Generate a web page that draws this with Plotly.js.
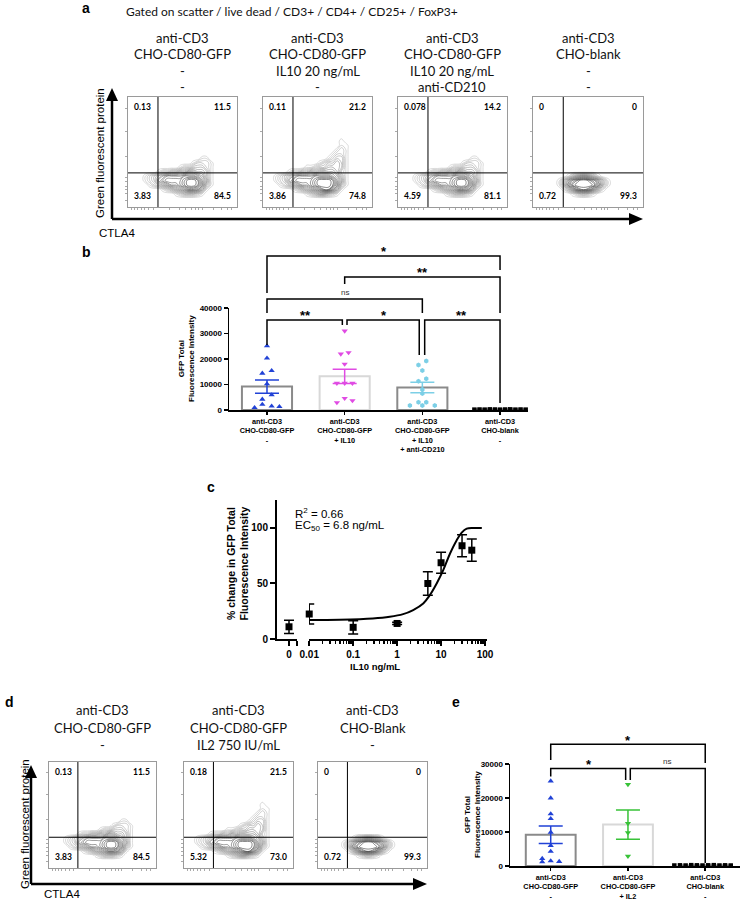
<!DOCTYPE html>
<html><head><meta charset="utf-8">
<script src="https://cdn.plot.ly/plotly-3.0.1.min.js"></script>
<style>html,body{margin:0;padding:0;background:#fff}</style>
</head><body><div id="chart" style="width:745px;height:901px"></div>
<script>
// ================= DATA =================
const gatingTitle = "Gated on scatter / live dead / CD3+ / CD4+ / CD25+ / FoxP3+";
const headingsA = [
  ["anti-CD3","CHO-CD80-GFP","-","-"],
  ["anti-CD3","CHO-CD80-GFP","IL10 20 ng/mL","-"],
  ["anti-CD3","CHO-CD80-GFP","IL10 20 ng/mL","anti-CD210"],
  ["anti-CD3","CHO-blank","-","-"]
];
const quadrantsA = [["0.13","11.5","3.83","84.5"],["0.11","21.2","3.86","74.8"],["0.078","14.2","4.59","81.1"],["0","0","0.72","99.3"]];
const headingsD = [
  ["anti-CD3","CHO-CD80-GFP","-"],
  ["anti-CD3","CHO-CD80-GFP","IL2 750 IU/mL"],
  ["anti-CD3","CHO-Blank","-"]
];
const quadrantsD = [["0.13","11.5","3.83","84.5"],["0.18","21.5","5.32","73.0"],["0","0","0.72","99.3"]];
const gateA = [27.5, 31];
const gateD = [27, 29];

// density maps (rows top -> bottom)
const densX = [0,4,8,12,16,20,24,28,32,36,40,44,48,52,56,60,64,68,72,76,80,84,88,92,96,100];
const blobA_y = [52,48,44,40,36,32,28,24,20,16,12,8,4];
const blobA = [
"00000000000000000000000000",
"00000000000000000000000000",
"00000000000000000110000000",
"00000000000000012221000000",
"00000000000012233321000000",
"00000001223344554431000000",
"00001234566667776531000000",
"00001235677778998641000000",
"00000123456678998631000000",
"00000000123456776410000000",
"00000000000123332100000000",
"00000000000000000000000000",
"00000000000000000000000000"];
const blobB_y = [64,60,56,52,48,44,40,36,32,28,24,20,16,12,8,4];
const blobB = [
"00000000000000000000000000",
"00000000000000000010000000",
"00000000000000000011000000",
"00000000000000000121000000",
"00000000000000001221000000",
"00000000000000012331000000",
"00000000000001233431000000",
"00000000001123344431000000",
"00000012233445555421000000",
"00012345666677776531000000",
"00012356777789998641000000",
"00001234566789998631000000",
"00000001234567886410000000",
"00000000001234432100000000",
"00000000000000000000000000",
"00000000000000000000000000"];
const blobC_y = [36,32,28,24,20,16,12,8,4];
const blobC = [
"00000000000000000000000000",
"00000000000000000000000000",
"00000000134554310000000000",
"00000013578998753100000000",
"00000013689999863100000000",
"00000001357887531000000000",
"00000000012332100000000000",
"00000000000000000000000000",
"00000000000000000000000000"];

// Panel b
const catB = ["anti-CD3<br>CHO-CD80-GFP<br>-","anti-CD3<br>CHO-CD80-GFP<br>+ IL10","anti-CD3<br>CHO-CD80-GFP<br>+ IL10<br>+ anti-CD210","anti-CD3<br>CHO-blank<br>-"];
const meanB = [9200, 13200, 8800, 150];
const semB  = [2600, 2800, 2050, 30];
const ptsB_g1 = [25100, 20300, 14400, 15400, 10200, 5900, 4200, 2200, 900, 1500, 1300];
const offB_g1 = [0, 0, -0.06, 0.06, 0, 0.06, -0.06, -0.06, -0.16, 0.06, 0.16];
const ptsB_g2 = [31000, 22500, 22000, 18000, 10500, 10500, 10500, 2900, 4600, 3700];
const offB_g2 = [0, 0.05, -0.05, 0, -0.1, 0, 0.1, -0.1, 0, 0.1];
const ptsB_g3 = [19200, 17600, 15500, 12300, 11300, 8000, 6500, 3000, 3000, 1800, 1800, 1800];
const offB_g3 = [0.05, -0.05, 0, 0.05, -0.05, 0, 0, -0.05, 0.05, -0.16, 0, 0.16];
const ptsB_g4 = [150, 200, 150, 250, 200, 150, 200, 250, 150, 200, 150];
const offB_g4 = [-0.33, -0.264, -0.198, -0.132, -0.066, 0, 0.066, 0.132, 0.198, 0.264, 0.33];
const yTicksB = [0, 10000, 20000, 30000, 40000];
// brackets: [fromGroup, toGroup, level, leftDropEnd, rightDropEnd, label]
const bracketsB = [
  [0, 3, 60400, 45900, 54900, "*"],
  [1, 3, 52200, 49400, 38000, "**"],
  [0, 2, 43500, 38000, 38000, "ns"],
  [0, 1, 35300, 25500, 33300, "**"],
  [1, 2, 35300, 33300, 21600, "*"],
  [2, 3, 35300, 21600, 2700, "**"]
];

// Panel c
const cZeroDose = [0];
const cZeroMean = [11];
const cZeroErr = [6];
const cDose = [0.01, 0.1, 1, 5, 10, 30, 50];
const cMean = [22.5, 10.5, 14, 50, 68.7, 84, 80];
const cErr  = [9, 6, 1, 10.5, 9.5, 10, 10];
const fitX = [0.01, 0.049, 0.28, 0.68, 1.37, 2.32, 3.93, 5.57, 7.94, 11.2, 16, 22.7, 29.5, 38.4, 54, 84.5];
const fitY = [17.1, 17.4, 18.5, 20, 22.4, 26.1, 32, 39.6, 50, 62, 77, 89, 95.8, 99.4, 100, 100];
const cXTicks = [0.01, 0.1, 1, 10, 100];
const cXTickText = ["0.01", "0.1", "1", "10", "100"];
const cYTicks = [0, 50, 100];

// Panel e
const catE = ["anti-CD3<br>CHO-CD80-GFP<br>-","anti-CD3<br>CHO-CD80-GFP<br>+ IL2","anti-CD3<br>CHO-blank<br>-"];
const meanE = [9200, 12200, 150];
const semE  = [2550, 4300, 30];
const ptsE_g1 = [25000, 20000, 15300, 13900, 9900, 6000, 4300, 2200, 1200, 1500, 1300];
const offE_g1 = [0, 0, 0, 0, 0, 0, 0, -0.11, -0.11, 0, 0.11];
const ptsE_g2 = [24000, 12500, 9800, 2900];
const offE_g2 = [0, 0, 0, 0];
const ptsE_g3 = [150, 200, 150, 250, 200, 150, 200, 250, 150, 200, 150];
const offE_g3 = [-0.4, -0.327, -0.254, -0.181, -0.108, -0.035, 0.038, 0.111, 0.184, 0.257, 0.33];
const yTicksE = [0, 10000, 20000, 30000];
const bracketsE = [
  [0, 2, 35800, 31200, 30300, "*"],
  [0, 1, 28700, 26300, 25300, "*"],
  [1, 2, 28700, 25300, 900, "ns"]
];

// ================= LAYOUT HELPERS =================
const W = 745, H = 901;
const px = x => x / W;
const py = y => 1 - y / H;
const dom = (a, b) => [a / W, b / W];
const vdom = (top, bottom) => [1 - bottom / H, 1 - top / H];
const sfx = n => (n === 1 ? "" : String(n));
const FLOWFONT = "Lato, 'Open Sans', sans-serif";
const ARIAL = "'Liberation Sans', Arial, sans-serif";

const traces = [];
const annotations = [];
const shapes = [];
const layout = {
  width: W, height: H, margin: {l: 0, r: 0, t: 0, b: 0}, autosize: false,
  paper_bgcolor: "#fff", plot_bgcolor: "rgba(0,0,0,0)", showlegend: false,
  font: {family: ARIAL, color: "#000"}, hovermode: false
};

function ann(x, y, text, opts) {
  return Object.assign({xref: "paper", yref: "paper", x: px(x), y: py(y), text: text, showarrow: false,
    xanchor: "center", yanchor: "middle", font: {family: ARIAL, size: 11, color: "#000"}}, opts || {});
}
const toZ = rows => rows.slice().reverse().map(r => r.padEnd(26, "0").split("").map(Number));
const blobs = {
  A: {y: blobA_y.slice().reverse(), z: toZ(blobA)},
  B: {y: blobB_y.slice().reverse(), z: toZ(blobB)},
  C: {y: blobC_y.slice().reverse(), z: toZ(blobC)}
};

// ================= FLOW PANELS =================
function flowBox(n, xr, yr, blob, quad, gate) {
  const s = sfx(n);
  layout["xaxis" + s] = {domain: dom(xr[0], xr[1]), anchor: "y" + s, range: [0, 100], showgrid: false, zeroline: false,
    showline: true, mirror: true, linecolor: "#9a9a9a", linewidth: 1, ticks: "outside", ticklen: 2, tickcolor: "#aaa",
    tickvals: [3, 6, 9, 12, 15, 19, 23, 38, 47, 53, 58, 62, 65, 68, 78, 86, 91, 95], showticklabels: false, fixedrange: true};
  layout["yaxis" + s] = {domain: vdom(yr[0], yr[1]), anchor: "x" + s, range: [0, 100], showgrid: false, zeroline: false,
    showline: true, mirror: true, linecolor: "#9a9a9a", linewidth: 1, ticks: "outside", ticklen: 2, tickcolor: "#aaa",
    tickvals: [6, 12, 16, 19, 23, 27, 46, 69, 90], showticklabels: false, fixedrange: true};
  traces.push({type: "contour", x: densX, y: blobs[blob].y, z: blobs[blob].z, xaxis: "x" + s, yaxis: "y" + s,
    contours: {start: 0.5, end: 9.2, size: 0.5, coloring: "lines"}, line: {width: 0.55, smoothing: 1.3},
    colorscale: [[0, "#bdbdbd"], [0.5, "#6a6a6a"], [1, "#1a1a1a"]], zmin: 0.5, zmax: 9.2, showscale: false, hoverinfo: "skip"});
  shapes.push({type: "line", xref: "x" + s, yref: "y" + s, x0: gate[0], x1: gate[0], y0: 0, y1: 100, line: {color: "#000", width: 1}});
  shapes.push({type: "line", xref: "x" + s, yref: "y" + s, x0: 0, x1: 100, y0: gate[1], y1: gate[1], line: {color: "#000", width: 1}});
  const qf = {family: FLOWFONT, size: 8.5, color: "#000", weight: "bold"};
  const xr_ = "x" + s + " domain", yr_ = "y" + s + " domain";
  annotations.push({xref: xr_, yref: yr_, x: 0.035, y: 0.91, text: quad[0], showarrow: false, xanchor: "left", yanchor: "middle", font: qf});
  annotations.push({xref: xr_, yref: yr_, x: 0.96, y: 0.91, text: quad[1], showarrow: false, xanchor: "right", yanchor: "middle", font: qf});
  annotations.push({xref: xr_, yref: yr_, x: 0.035, y: 0.1, text: quad[2], showarrow: false, xanchor: "left", yanchor: "middle", font: qf});
  annotations.push({xref: xr_, yref: yr_, x: 0.96, y: 0.1, text: quad[3], showarrow: false, xanchor: "right", yanchor: "middle", font: qf});
}

const boxesA = [[128, 237], [263, 372], [398, 507], [533, 643]];
const blobKeyA = ["A", "B", "A", "C"];
boxesA.forEach((b, i) => {
  flowBox(i + 1, b, [97, 207], blobKeyA[i], quadrantsA[i], gateA);
  headingsA[i].forEach((t, j) => annotations.push(ann((b[0] + b[1]) / 2, 38 + j * 16.3, t, {font: {family: FLOWFONT, size: 13, color: "#111"}})));
});
const boxesD = [[49, 156], [184, 293], [318, 427]];
const blobKeyD = ["A", "B", "C"];
const dAxisIds = [8, 9, 10];
boxesD.forEach((b, i) => {
  flowBox(dAxisIds[i], b, [762, 868], blobKeyD[i], quadrantsD[i], gateD);
  headingsD[i].forEach((t, j) => annotations.push(ann((b[0] + b[1]) / 2, 710 + j * 17.5, t, {font: {family: FLOWFONT, size: 13, color: "#111"}})));
});
annotations.push(ann(292, 11, gatingTitle, {font: {family: FLOWFONT, size: 12, color: "#111"}}));

// big arrows
function arrowAxes(x0, yb, ytip, xtip) {
  shapes.push({type: "line", xref: "paper", yref: "paper", x0: px(x0), y0: py(yb), x1: px(x0), y1: py(ytip + 12), line: {color: "#000", width: 2.5}});
  shapes.push({type: "path", xref: "paper", yref: "paper", path: `M${px(x0 - 6)},${py(ytip + 13)} L${px(x0)},${py(ytip)} L${px(x0 + 6)},${py(ytip + 13)} Z`, fillcolor: "#000", line: {width: 0}});
  shapes.push({type: "line", xref: "paper", yref: "paper", x0: px(x0), y0: py(yb), x1: px(xtip - 12), y1: py(yb), line: {color: "#000", width: 2.5}});
  shapes.push({type: "path", xref: "paper", yref: "paper", path: `M${px(xtip - 14)},${py(yb - 6)} L${px(xtip)},${py(yb)} L${px(xtip - 14)},${py(yb + 6)} Z`, fillcolor: "#000", line: {width: 0}});
}
arrowAxes(112, 219, 88, 643);
arrowAxes(31, 884, 765, 427);
annotations.push(ann(100, 153, "Green fluorescent protein", {textangle: -90, font: {family: ARIAL, size: 11.5, color: "#000"}}));
annotations.push(ann(97, 233, "CTLA4", {xanchor: "left", font: {family: ARIAL, size: 11.5, color: "#000"}}));
annotations.push(ann(25, 824, "Green fluorescent protein", {textangle: -90, font: {family: ARIAL, size: 11.5, color: "#000"}}));
annotations.push(ann(42, 894, "CTLA4", {xanchor: "left", font: {family: ARIAL, size: 11.5, color: "#000"}}));

// ================= DOT-BAR PANELS (b, e) =================
function dotBar(opts) {
  const xs = opts.x, bs = opts.by;
  layout["xaxis" + xs] = {domain: dom(opts.px[0], opts.px[1]), anchor: "y" + xs, range: opts.xrange,
    tickvals: opts.cats.map((c, i) => i), ticktext: opts.cats, tickfont: {family: ARIAL, size: 7.3, weight: "bold", color: "#000"},
    showline: true, linewidth: 2, linecolor: "#000", ticks: "outside", ticklen: 3, tickwidth: 1.5, tickcolor: "#000",
    showgrid: false, zeroline: false, fixedrange: true};
  layout["yaxis" + xs] = {domain: vdom(opts.py[0], opts.py[1]), anchor: "x" + xs, range: [0, opts.ymax],
    tickvals: opts.yticks, tickformat: "d", tickfont: {family: ARIAL, size: 8, weight: "bold", color: "#000"},
    showline: true, linewidth: 1.5, linecolor: "#000", ticks: "outside", ticklen: 4, tickwidth: 1.5, tickcolor: "#000",
    showgrid: false, zeroline: false, fixedrange: true};
  layout["xaxis" + bs] = {domain: dom(opts.px[0], opts.px[1]), anchor: "y" + bs, range: opts.xrange, visible: false, fixedrange: true};
  layout["yaxis" + bs] = {domain: vdom(opts.bpy, opts.py[1]), anchor: "x" + bs, range: [0, opts.bymax], visible: false, fixedrange: true};
  traces.push({type: "bar", x: opts.cats.map((c, i) => i), y: opts.means, width: 0.645, xaxis: "x" + xs, yaxis: "y" + xs,
    marker: {color: "rgba(255,255,255,0)", line: {color: opts.barLine, width: 2}}, hoverinfo: "skip"});
  opts.groups.forEach((g, gi) => {
    traces.push({type: "scatter", mode: "markers", x: g.pts.map((v, k) => gi + g.off[k]), y: g.pts, xaxis: "x" + xs, yaxis: "y" + xs,
      cliponaxis: false, marker: {symbol: g.sym, size: g.size, color: g.color, line: {width: 0}}, hoverinfo: "skip"});
    if (gi < opts.groups.length - 1) {
      traces.push({type: "scatter", mode: "markers", x: [gi], y: [opts.means[gi]], xaxis: "x" + xs, yaxis: "y" + xs, cliponaxis: false,
        marker: {size: 1, color: "rgba(0,0,0,0)"}, hoverinfo: "skip",
        error_y: {type: "data", array: [opts.sems[gi]], visible: true, color: g.color, thickness: 1.5, width: 12}});
    }
  });
  // brackets
  const bx = [], by = [];
  opts.brackets.forEach((b, k) => {
    const nd = opts.nudge[k];
    const xl = b[0] + nd[0], xr = b[1] + nd[1];
    bx.push(xl, xl, xr, xr, null);
    by.push(b[3], b[2], b[2], b[4], null);
    const isNs = b[5] === "ns";
    annotations.push({xref: "x" + bs, yref: "y" + bs, x: (b[0] + b[1]) / 2, y: b[2], text: b[5], showarrow: false,
      xanchor: "center", yanchor: "middle", yshift: isNs ? 7 : 4,
      font: isNs ? {family: ARIAL, size: 8, color: "#333"} : {family: ARIAL, size: 13, weight: "bold", color: "#000"}});
  });
  traces.push({type: "scatter", mode: "lines", x: bx, y: by, xaxis: "x" + bs, yaxis: "y" + bs, cliponaxis: false,
    line: {color: "#000", width: 1.5}, connectgaps: false, hoverinfo: "skip"});
}

const BLUE = "#2142d6", MAGENTA = "#e04be3", SKY = "#7ccfe6", GREEN = "#38c238";
dotBar({x: 5, by: 12, px: [229, 528], py: [308, 410], bpy: 245, xrange: [-0.489, 3.36], ymax: 40000, bymax: 64700,
  cats: catB, means: meanB, sems: semB, yticks: yTicksB, barLine: ["#8a8a8a", "#d8d8d8", "#8a8a8a", "#8a8a8a"],
  groups: [
    {pts: ptsB_g1, off: offB_g1, sym: "triangle-up", size: 5.5, color: BLUE},
    {pts: ptsB_g2, off: offB_g2, sym: "triangle-down", size: 5.5, color: MAGENTA},
    {pts: ptsB_g3, off: offB_g3, sym: "hexagon", size: 5, color: SKY},
    {pts: ptsB_g4, off: offB_g4, sym: "square", size: 4.5, color: "#000"}
  ],
  brackets: bracketsB, nudge: [[0, 0], [0, 0], [0, 0], [0, -0.03], [0.03, -0.04], [0.03, 0]]});

dotBar({x: 11, by: 13, px: [510, 740], py: [764, 866], bpy: 730, xrange: [-0.527, 2.45], ymax: 30000, bymax: 40000,
  cats: catE, means: meanE, sems: semE, yticks: yTicksE, barLine: ["#8a8a8a", "#d8d8d8", "#8a8a8a"],
  groups: [
    {pts: ptsE_g1, off: offE_g1, sym: "triangle-up", size: 5.5, color: BLUE},
    {pts: ptsE_g2, off: offE_g2, sym: "triangle-down", size: 5.5, color: GREEN},
    {pts: ptsE_g3, off: offE_g3, sym: "square", size: 4.5, color: "#000"}
  ],
  brackets: bracketsE, nudge: [[0, 0], [0, -0.03], [0.03, 0]]});

annotations.push(ann(187, 359, "GFP Total<br>Fluorescence Intensity", {textangle: -90, font: {family: ARIAL, size: 8, weight: "bold", color: "#000"}}));
annotations.push(ann(472, 815, "GFP Total<br>Fluorescence Intensity", {textangle: -90, font: {family: ARIAL, size: 8, weight: "bold", color: "#000"}}));

// ================= PANEL c =================
const axC = {showgrid: false, zeroline: false, showline: true, linewidth: 2, linecolor: "#000", ticks: "outside",
  ticklen: 5, tickwidth: 2, tickcolor: "#000", tickfont: {family: ARIAL, size: 10, weight: "bold", color: "#000"}, fixedrange: true};
layout.yaxis6 = Object.assign({}, axC, {domain: vdom(500, 639), anchor: "x6", range: [0, 125.2], tickvals: cYTicks});
layout.xaxis6 = Object.assign({}, axC, {domain: dom(277, 297), anchor: "y6", range: [-0.6, 0.4], tickvals: [0, 0.4], ticktext: ["0", " "]});
layout.xaxis7 = Object.assign({}, axC, {domain: dom(309, 487), anchor: "y6", type: "log", range: [-2.005, 2.045],
  tickvals: cXTicks, ticktext: cXTickText,
  minor: {ticks: "outside", ticklen: 3, tickwidth: 1.5, tickcolor: "#000",
    tickvals: [0.02,0.03,0.04,0.05,0.06,0.07,0.08,0.09,0.2,0.3,0.4,0.5,0.6,0.7,0.8,0.9,2,3,4,5,6,7,8,9,20,30,40,50,60,70,80,90]}});
traces.push({type: "scatter", mode: "markers", x: cZeroDose, y: cZeroMean, xaxis: "x6", yaxis: "y6", cliponaxis: false,
  marker: {symbol: "square", size: 7, color: "#000"}, error_y: {type: "data", array: cZeroErr, visible: true, color: "#000", thickness: 1.5, width: 5}, hoverinfo: "skip"});
traces.push({type: "scatter", mode: "lines", x: fitX, y: fitY, xaxis: "x7", yaxis: "y6", cliponaxis: false,
  line: {color: "#000", width: 2, shape: "spline", smoothing: 1}, hoverinfo: "skip"});
traces.push({type: "scatter", mode: "markers", x: cDose, y: cMean, xaxis: "x7", yaxis: "y6", cliponaxis: false,
  marker: {symbol: "square", size: 7, color: "#000"}, error_y: {type: "data", array: cErr, visible: true, color: "#000", thickness: 1.5, width: 5}, hoverinfo: "skip"});
annotations.push(ann(237.5, 564, "% change in GFP Total<br>Fluorescence Intensity", {textangle: -90, font: {family: ARIAL, size: 10.5, weight: "bold", color: "#000"}}));
annotations.push(ann(375, 666, "IL10 ng/mL", {font: {family: ARIAL, size: 9.5, weight: "bold", color: "#000"}}));
annotations.push(ann(293, 513, "R<sup>2</sup> = 0.66", {xanchor: "left", font: {family: ARIAL, size: 11.5, color: "#000"}}));
annotations.push(ann(293, 526, "EC<sub>50</sub> = 6.8 ng/mL", {xanchor: "left", font: {family: ARIAL, size: 11.5, color: "#000"}}));

// panel letters
[["a", 86, 8], ["b", 86, 252], ["c", 211, 487], ["d", 9, 702], ["e", 456, 702]].forEach(l =>
  annotations.push(ann(l[1], l[2], l[0], {font: {family: ARIAL, size: 14, weight: "bold", color: "#000"}})));

layout.annotations = annotations;
layout.shapes = shapes;
Plotly.newPlot("chart", traces, layout, {displayModeBar: false, staticPlot: true});
</script>
</body></html>
